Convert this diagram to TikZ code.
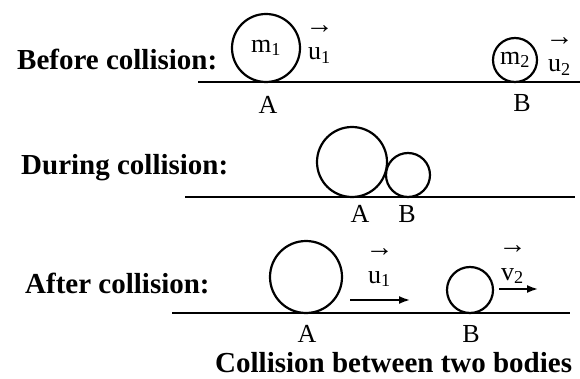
\documentclass[tikz,border=0pt]{standalone}
\usepackage{fontspec}
\setmainfont{Liberation Serif}
\usetikzlibrary{arrows.meta}

\begin{document}
\begin{tikzpicture}[x=1pt, y=-1pt,
      title/.style={font=\fontsize{29}{34}\selectfont\bfseries, anchor=base west, inner sep=0pt},
      ball/.style={draw, circle, line width=2.2pt, inner sep=0pt,
                   font=\fontsize{26}{30}\selectfont},
      floor/.style={line width=2.6pt},
      spot/.style={font=\fontsize{26}{30}\selectfont, inner sep=0pt},
      vel/.style={font=\fontsize{26}{30}\selectfont, anchor=base west, inner sep=0pt,
                  label={[font=\fontsize{28}{28}\selectfont, inner sep=0pt,
                          label distance=14pt]above:→}},
      arr/.style={-{Latex[length=11pt, width=8pt]}, line width=1.8pt},
    ]
    \useasboundingbox (0,0) rectangle (580,379);

    % ---------- before collision ----------
    \node[title] (before) at (17,70) {Before collision:};
    \coordinate (f1l) at (198,82);
    \coordinate (f1r) at (580,82);
    \draw[floor] (f1l) -- (f1r);
    \node[ball, minimum size=68pt] (ballA1) at (266,48) {m\textsubscript{1}};
    \node[ball, minimum size=44pt] (ballB1) at (515,60) {m\textsubscript{2}};
    \node[vel] (u1a) at (308,60) {u\textsubscript{1}};
    \node[vel] (u2a) at (548,72) {u\textsubscript{2}};
    \node[spot] (labA1) at (268,105) {A};
    \node[spot] (labB1) at (522,103) {B};

    % ---------- during collision ----------
    \node[title] (during) at (21,175) {During collision:};
    \coordinate (f2l) at (185,197);
    \coordinate (f2r) at (575,197);
    \draw[floor] (f2l) -- (f2r);
    \node[ball, minimum size=70pt] (ballA2) at (352,162) {};
    \node[ball, minimum size=44pt] (ballB2) at (408,175) {};
    \node[spot] (labA2) at (360,214) {A};
    \node[spot] (labB2) at (407,214) {B};

    % ---------- after collision ----------
    \node[title] (after) at (25,293) {After collision:};
    \coordinate (f3l) at (172,313);
    \coordinate (f3r) at (570,313);
    \draw[floor] (f3l) -- (f3r);
    \node[ball, minimum size=72pt] (ballA3) at (306,277) {};
    \node[ball, minimum size=46pt] (ballB3) at (470,290) {};
    \coordinate (u1s) at (350,300);
    \coordinate (u1e) at (410,300);
    \draw[arr] (u1s) -- (u1e);
    \node[vel] (u1b) at (368,283) {u\textsubscript{1}};
    \coordinate (v2s) at (499,289);
    \coordinate (v2e) at (538,289);
    \draw[arr] (v2s) -- (v2e);
    \node[vel] (v2b) at (501,280) {v\textsubscript{2}};
    \node[spot] (labA3) at (307,334) {A};
    \node[spot] (labB3) at (471,334) {B};

    \node[title] (caption) at (215,372) {Collision between two bodies};
  \end{tikzpicture}
\end{document}
